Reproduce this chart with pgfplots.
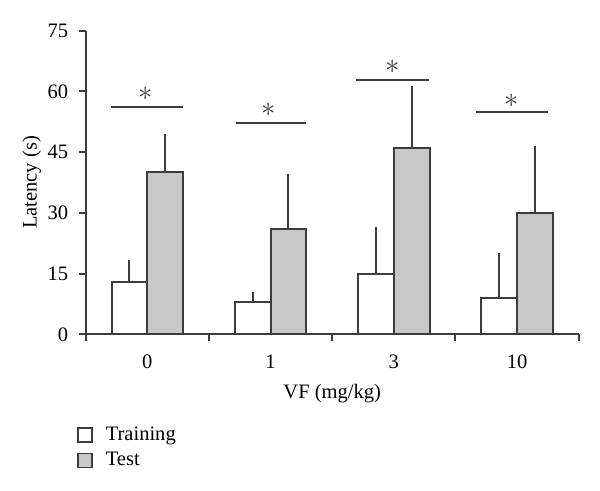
\documentclass[border=0pt]{standalone}
\usepackage{pgfplots}
\pgfplotsset{compat=1.18}
\usepackage{fontspec}
\setmainfont{Liberation Serif}
\definecolor{dk}{HTML}{3C3C3C}
\definecolor{tgray}{HTML}{C8C8C8}
\pgfplotstableread{
x y e
0.355 12.8 5.6
1.355 8.0 2.5
2.355 15.0 11.4
3.355 9.0 11.2
}\training
\pgfplotstableread{
x y e
0.645 40.0 9.6
1.645 26.0 13.6
2.645 45.9 15.4
3.645 30.0 16.6
}\test
\begin{document}
\begin{tikzpicture}
\begin{axis}[
  scale only axis,
  width=246.5bp, height=151.8bp,
  xmin=0, xmax=4, ymin=0, ymax=75,
  axis lines=left,
  axis line style={draw=dk, line width=1bp, -},
  every tick/.style={draw=dk, line width=1bp},
  tick align=outside,
  major tick length=3.2bp,
  xtick={0,1,2,3,4}, xticklabels={},
  extra x ticks={0.5,1.5,2.5,3.5},
  extra x tick labels={0,1,3,10},
  extra x tick style={major tick length=0pt, xticklabel style={yshift=-7bp}},
  ytick={0,15,30,45,60,75},
  yticklabel style={xshift=-2bp},
  tick label style={font=\fontsize{10.3}{12}\selectfont},
  /pgf/number format/assume math mode=true,
  ylabel={Latency (s)},
  ylabel style={at={(axis description cs:-0.1095,0.5)}, anchor=center, font=\fontsize{10.3}{12}\selectfont},
  xlabel={VF (mg/kg)},
  xlabel style={at={(axis description cs:0.5,0)}, anchor=center, yshift=-29.5bp, font=\fontsize{10.3}{12}\selectfont},
  clip=false,
  legend style={at={(axis description cs:-0.018,-0.29)}, anchor=north west, draw=none, fill=none,
    font=\fontsize{10.3}{12}\selectfont, row sep=0.5bp, inner sep=0pt,
    /tikz/every odd column/.append style={column sep=4.5bp}},
  legend cell align=left,
  legend image code/.code={\draw[#1, line width=0.8bp] (0bp,-3.5bp) rectangle (7bp,3.5bp);},
]
\addplot[ybar, bar width=0.29, bar shift=0, fill=white, draw=dk, line width=1bp,
  error bars/.cd, y dir=plus, y explicit, error mark=none,
  error bar style={draw=dk, line width=1bp}]
  table[x=x, y=y, y error plus=e] {\training};
\addlegendentry{Training}
\addplot[ybar, bar width=0.29, bar shift=0, fill=tgray, draw=dk, line width=1bp,
  error bars/.cd, y dir=plus, y explicit, error mark=none,
  error bar style={draw=dk, line width=1bp}]
  table[x=x, y=y, y error plus=e] {\test};
\addlegendentry{Test}
\addplot[draw=dk, line width=1bp, forget plot] coordinates {(0.203,56.1) (0.789,56.1)};
\addplot[draw=dk, line width=1bp, forget plot] coordinates {(1.22,52.2) (1.79,52.2)};
\addplot[draw=dk, line width=1bp, forget plot] coordinates {(2.19,62.9) (2.785,62.9)};
\addplot[draw=dk, line width=1bp, forget plot] coordinates {(3.17,55.0) (3.75,55.0)};
\node[text=dk, font=\fontsize{15}{17}\selectfont, inner sep=0pt] at (axis cs:0.487,59.3) {$\ast$};
\node[text=dk, font=\fontsize{15}{17}\selectfont, inner sep=0pt] at (axis cs:1.487,55.5) {$\ast$};
\node[text=dk, font=\fontsize{15}{17}\selectfont, inner sep=0pt] at (axis cs:2.493,66.0) {$\ast$};
\node[text=dk, font=\fontsize{15}{17}\selectfont, inner sep=0pt] at (axis cs:3.456,57.8) {$\ast$};
\end{axis}
\path ([shift={(-42.85bp,-78.35bp)}]current axis.south west) rectangle ([shift={(10.65bp,15.35bp)}]current axis.north east);
\end{tikzpicture}
\end{document}
